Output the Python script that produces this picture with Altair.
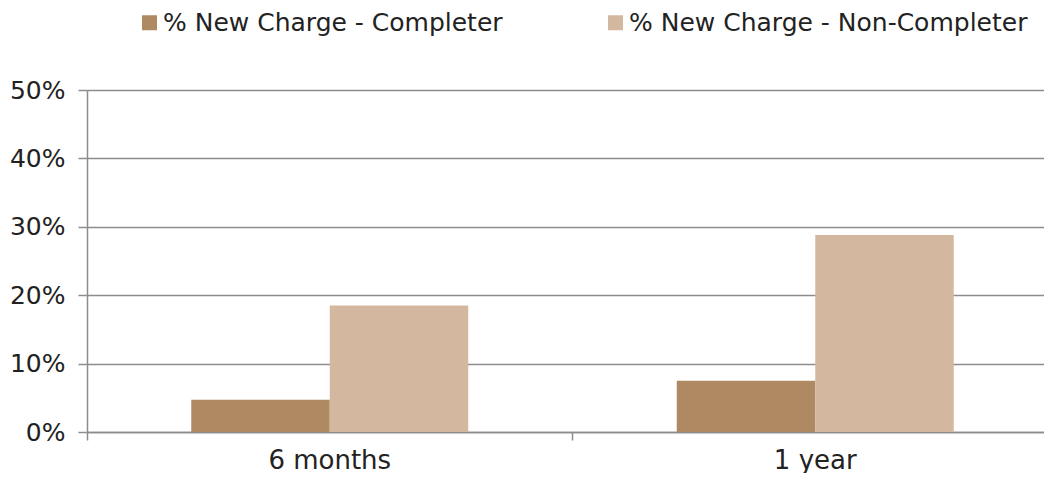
import altair as alt
import pandas as pd

periods = ["6 months", "1 year"]
series = ["% New Charge - Completer", "% New Charge - Non-Completer"]
completer = [0.047, 0.075]
non_completer = [0.185, 0.288]
colors = ["#AF8961", "#D4B79F"]
y_ticks = [0, 0.1, 0.2, 0.3, 0.4, 0.5]

rows = []
for i, p in enumerate(periods):
    rows.append({"period": p, "series": series[0], "value": completer[i]})
    rows.append({"period": p, "series": series[1], "value": non_completer[i]})
df = pd.DataFrame(rows)

FONT = "DejaVu Sans"
GRID = "#8c8c8c"
TEXT = "#222222"

chart = alt.Chart(df).mark_bar().encode(
    x=alt.X(
        "period:N",
        sort=periods,
        scale=alt.Scale(range=[0, 971], paddingInner=0, paddingOuter=0),
        axis=alt.Axis(
            title=None, labelAngle=0, bandPosition=0, tickSize=8, labelPadding=7,
            labelFontSize=26, labelFont=FONT, labelColor=TEXT,
            domainColor=GRID, domainWidth=1.5, tickColor=GRID, tickWidth=1.5, grid=False,
        ),
    ),
    xOffset=alt.XOffset(
        "series:N", sort=series,
        scale=alt.Scale(paddingOuter=0.7527, paddingInner=0),
    ),
    y=alt.Y(
        "value:Q",
        scale=alt.Scale(domain=[0, 0.5], nice=False),
        axis=alt.Axis(
            title=None, format="%", values=y_ticks, tickSize=9, labelPadding=13,
            labelFontSize=25, labelFont=FONT, labelColor=TEXT,
            grid=True, gridColor=GRID, gridWidth=1.5,
            domainColor=GRID, domainWidth=1.5, tickColor=GRID, tickWidth=1.5,
        ),
    ),
    color=alt.Color(
        "series:N", sort=series,
        scale=alt.Scale(domain=series, range=colors),
        legend=alt.Legend(
            orient="none", legendX=50, legendY=-80, direction="horizontal", title=None,
            symbolType="square", symbolSize=225, symbolStrokeWidth=0,
            labelFontSize=25, labelFont=FONT, labelColor=TEXT, labelOffset=1,
            columnPadding=100, padding=0, labelLimit=800,
        ),
    ),
).properties(
    width=957,
    height=342,
    autosize=alt.AutoSizeParams(type="none"),
    padding={"left": 79, "top": 82, "right": 0, "bottom": 41},
).configure_view(stroke=None)

chart.save("out.html", embed_options={"renderer": "svg", "actions": False})
